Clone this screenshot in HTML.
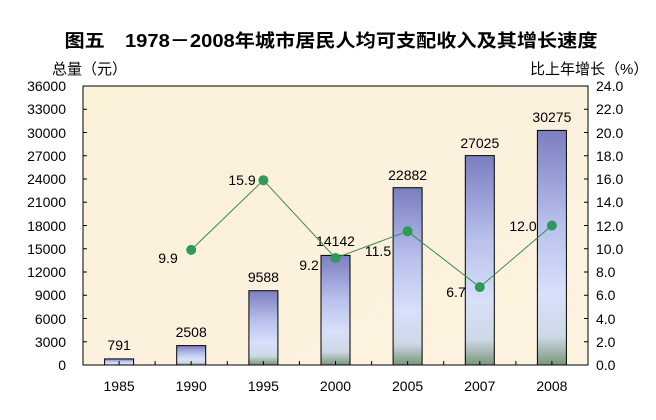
<!DOCTYPE html>
<html><head><meta charset="utf-8"><style>
body{margin:0;background:#fff}
svg{display:block}
text{font-family:"Liberation Sans","Noto Sans CJK SC",sans-serif;fill:#000}
</style></head><body>
<svg width="656" height="420" viewBox="0 0 656 420" xmlns="http://www.w3.org/2000/svg">
<defs>
<linearGradient id="bg" x1="0" y1="0" x2="1" y2="1">
<stop offset="0" stop-color="#fbf0d8"/><stop offset="1" stop-color="#fcf2e0"/>
</linearGradient>
<linearGradient id="bar" x1="0" y1="0" x2="0" y2="1">
<stop offset="0" stop-color="#7a7ec0"/>
<stop offset="0.4" stop-color="#b8c0ec"/>
<stop offset="0.7" stop-color="#d8e0fa"/>
<stop offset="0.88" stop-color="#cdd8e6"/>
<stop offset="1" stop-color="#7a967a"/>
</linearGradient>
</defs>
<text x="331" y="47" text-anchor="middle" font-size="18" font-weight="bold" textLength="533" lengthAdjust="spacingAndGlyphs">图五　1978－2008年城市居民人均可支配收入及其增长速度</text>
<text x="52" y="74" font-size="15">总量（元）</text>
<text x="530" y="74" font-size="15">比上年增长（%）</text>
<rect x="83" y="86" width="505" height="279" fill="url(#bg)" stroke="#000" stroke-width="1"/>
<g font-size="14" text-anchor="end">
<text x="66" y="370">0</text><text x="66" y="347">3000</text><text x="66" y="324">6000</text><text x="66" y="300">9000</text><text x="66" y="277">12000</text><text x="66" y="254">15000</text><text x="66" y="231">18000</text><text x="66" y="207">21000</text><text x="66" y="184">24000</text><text x="66" y="161">27000</text><text x="66" y="138">30000</text><text x="66" y="114">33000</text><text x="66" y="91">36000</text>
</g>
<g font-size="14" text-anchor="start">
<text x="596" y="370">0.0</text><text x="596" y="347">2.0</text><text x="596" y="324">4.0</text><text x="596" y="300">6.0</text><text x="596" y="277">8.0</text><text x="596" y="254">10.0</text><text x="596" y="231">12.0</text><text x="596" y="207">14.0</text><text x="596" y="184">16.0</text><text x="596" y="161">18.0</text><text x="596" y="138">20.0</text><text x="596" y="114">22.0</text><text x="596" y="91">24.0</text>
</g>
<g stroke="#000" stroke-width="1">
<path d="M83 341.75h4M83 318.5h4M83 295.25h4M83 272h4M83 248.75h4M83 225.5h4M83 202.25h4M83 179h4M83 155.75h4M83 132.5h4M83 109.25h4"/>
<path d="M588 341.75h-4M588 318.5h-4M588 295.25h-4M588 272h-4M588 248.75h-4M588 225.5h-4M588 202.25h-4M588 179h-4M588 155.75h-4M588 132.5h-4M588 109.25h-4"/>
<path d="M155.1 365v-4M227.3 365v-4M299.4 365v-4M371.6 365v-4M443.7 365v-4M515.9 365v-4"/>
</g>
<g fill="url(#bar)" stroke="#000" stroke-width="1">
<rect x="104.6" y="358.9" width="29" height="6.1"/>
<rect x="176.7" y="345.6" width="29" height="19.4"/>
<rect x="248.9" y="290.7" width="29" height="74.3"/>
<rect x="321" y="255.4" width="29" height="109.6"/>
<rect x="393.1" y="187.7" width="29" height="177.3"/>
<rect x="465.3" y="155.6" width="29" height="209.4"/>
<rect x="537.4" y="130.4" width="29" height="234.6"/>
</g>
<g stroke="#000"><path d="M119.1 365v-4M191.2 365v-4M263.4 365v-4M335.5 365v-4M407.6 365v-4M479.8 365v-4M551.9 365v-4"/></g>
<g font-size="14" text-anchor="middle">
<text x="119.1" y="350">791</text><text x="191.2" y="337">2508</text><text x="263.4" y="282">9588</text><text x="335.5" y="246">14142</text><text x="407.6" y="180">22882</text><text x="479.8" y="148">27025</text><text x="551.9" y="122">30275</text>
</g>
<g font-size="14" text-anchor="middle">
<text x="119.1" y="391">1985</text><text x="191.2" y="391">1990</text><text x="263.4" y="391">1995</text><text x="335.5" y="391">2000</text><text x="407.6" y="391">2005</text><text x="479.8" y="391">2007</text><text x="551.9" y="391">2008</text>
</g>
<polyline points="191.2,249.9 263.4,180.2 335.5,258 407.6,231.3 479.8,287.1 551.9,225.5" fill="none" stroke="#3a8a50" stroke-width="1"/>
<g fill="#2e9a5a">
<circle cx="191.2" cy="249.9" r="5"/><circle cx="263.4" cy="180.2" r="5"/><circle cx="335.5" cy="258" r="5"/><circle cx="407.6" cy="231.3" r="5"/><circle cx="479.8" cy="287.1" r="5"/><circle cx="551.9" cy="225.5" r="5"/>
</g>
<g font-size="14" text-anchor="middle">
<text x="168" y="263">9.9</text><text x="242" y="185">15.9</text><text x="309" y="270">9.2</text><text x="378" y="256">11.5</text><text x="456" y="297">6.7</text><text x="523" y="231">12.0</text>
</g>
</svg>
</body></html>
